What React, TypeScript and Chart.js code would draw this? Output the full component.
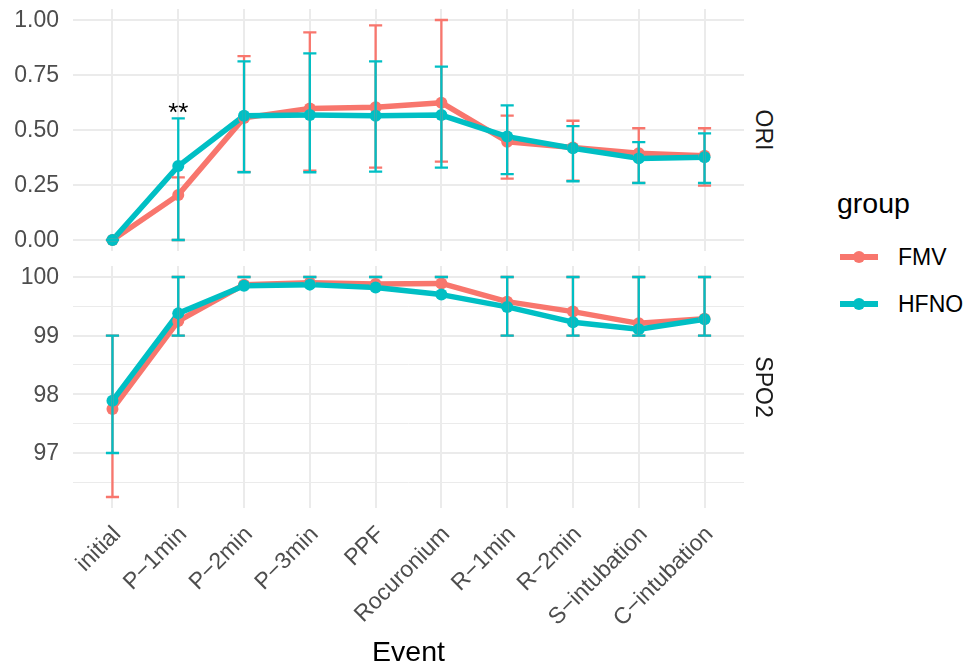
import React, { useEffect, useRef } from 'react';
import { Chart, registerables } from 'chart.js';

Chart.register(...registerables);

const FONT = "'Liberation Sans', Arial, Helvetica, sans-serif";
const FMV_COLOR = '#F8766D';
const HFNO_COLOR = '#00BFC4';
const GRID_COLOR = '#EBEBEB';
const TICK_COLOR = '#4D4D4D';

// ---- data ----
const categories = ['initial', 'P−1min', 'P−2min', 'P−3min', 'PPF', 'Rocuronium', 'R−1min', 'R−2min', 'S−intubation', 'C−intubation'];
const groups = ['FMV', 'HFNO'];
const panels = ['ORI', 'SPO2'];

const oriFMV = [0, 0.205, 0.555, 0.598, 0.603, 0.624, 0.447, 0.42, 0.394, 0.383];
const oriFMVLow = [0, 0, 0.31, 0.315, 0.329, 0.356, 0.279, 0.27, 0.26, 0.247];
const oriFMVHigh = [0, 0.285, 0.836, 0.944, 0.976, 1.0, 0.565, 0.542, 0.508, 0.508];
const oriHFNO = [0, 0.336, 0.565, 0.568, 0.565, 0.568, 0.47, 0.417, 0.371, 0.376];
const oriHFNOLow = [0, 0, 0.308, 0.308, 0.311, 0.329, 0.299, 0.267, 0.259, 0.259];
const oriHFNOHigh = [0, 0.553, 0.812, 0.848, 0.812, 0.788, 0.612, 0.518, 0.445, 0.485];

const spoFMV = [97.75, 99.25, 99.87, 99.9, 99.88, 99.89, 99.58, 99.41, 99.21, 99.29];
const spoFMVLow = [96.25, 99, 100, 100, 100, 100, 99, 99, 99, 99];
const spoFMVHigh = [99, 100, 100, 100, 100, 100, 100, 100, 100, 100];
const spoHFNO = [97.89, 99.38, 99.85, 99.87, 99.82, 99.7, 99.49, 99.23, 99.11, 99.28];
const spoHFNOLow = [97, 99, 100, 100, 100, 100, 99, 99, 99, 99];
const spoHFNOHigh = [99, 100, 100, 100, 100, 100, 100, 100, 100, 100];

const oriTicks = [0, 0.125, 0.25, 0.375, 0.5, 0.625, 0.75, 0.875, 1];
const spoTicks = [96.5, 97, 97.5, 98, 98.5, 99, 99.5, 100];
const oriRange = [-0.05, 1.05];
const spoRange = [96.0625, 100.1875];
const xRange = [-0.6, 9.6];
const capHalfWidth = 0.1;

const sigLabel = '**';
const sigIndex = 1;
const sigValue = 0.54;

// ---- helpers ----
const points = (values: number[]) => values.map((y, x) => ({ x, y }));

function errorPath(lo: number[], hi: number[]) {
  const out: { x: number; y: number | null }[] = [];
  lo.forEach((l, i) => {
    const h = hi[i];
    out.push(
      { x: i - capHalfWidth, y: h }, { x: i + capHalfWidth, y: h }, { x: i, y: null },
      { x: i, y: h }, { x: i, y: l }, { x: i, y: null },
      { x: i - capHalfWidth, y: l }, { x: i + capHalfWidth, y: l }, { x: i, y: null },
    );
  });
  return out;
}

function panelDatasets(fmv: number[], fmvLo: number[], fmvHi: number[], hfno: number[], hfnoLo: number[], hfnoHi: number[]) {
  const lineBase = { type: 'line' as const, borderWidth: 5.5, pointRadius: 0, borderJoinStyle: 'round' as const, spanGaps: false };
  const pointBase = { type: 'line' as const, showLine: false, pointRadius: 6, pointBorderWidth: 0, pointHoverRadius: 6 };
  const errBase = { type: 'line' as const, borderWidth: 2.3, pointRadius: 0, spanGaps: false, borderCapStyle: 'butt' as const };
  return [
    { ...lineBase, label: groups[0], data: points(fmv), borderColor: FMV_COLOR, order: 8 },
    { ...lineBase, label: groups[1], data: points(hfno), borderColor: HFNO_COLOR, order: 7 },
    { ...pointBase, data: points(fmv), pointBackgroundColor: FMV_COLOR, borderColor: FMV_COLOR, order: 6 },
    { ...pointBase, data: points(hfno), pointBackgroundColor: HFNO_COLOR, borderColor: HFNO_COLOR, order: 5 },
    { ...errBase, data: errorPath(fmvLo, fmvHi), borderColor: FMV_COLOR, order: 4 },
    { ...errBase, data: errorPath(hfnoLo, hfnoHi), borderColor: HFNO_COLOR, order: 3 },
  ];
}

function xScale(showLabels: boolean) {
  return {
    type: 'linear' as const,
    min: xRange[0],
    max: xRange[1],
    afterBuildTicks: (s: any) => { s.ticks = categories.map((_, i) => ({ value: i })); },
    grid: { color: GRID_COLOR, lineWidth: 2, drawTicks: false },
    border: { display: false },
    ticks: {
      display: showLabels,
      autoSkip: false,
      minRotation: 45,
      maxRotation: 45,
      padding: 13,
      labelOffset: 5,
      color: TICK_COLOR,
      font: { size: 23, family: FONT },
      callback: (v: any) => categories[Math.round(Number(v))] ?? '',
    },
    title: showLabels
      ? { display: true, text: 'Event', color: '#000000', font: { size: 28.5, family: FONT, lineHeight: 1.05 }, padding: 0 }
      : { display: false },
    afterFit: (s: any) => {
      s.height = showLabels ? 160 : 9;
      s.paddingLeft = 0;
      s.paddingRight = 0;
    },
  };
}

function yScale(range: number[], ticks: number[], isMajor: (v: number) => boolean, fmt: (v: number) => string) {
  return {
    type: 'linear' as const,
    min: range[0],
    max: range[1],
    afterBuildTicks: (s: any) => { s.ticks = ticks.map((value) => ({ value })); },
    grid: {
      color: GRID_COLOR,
      lineWidth: (ctx: any) => (ctx.tick && isMajor(ctx.tick.value) ? 2 : 1),
      drawTicks: false,
    },
    border: { display: false },
    ticks: {
      padding: 14,
      labelOffset: 1,
      color: TICK_COLOR,
      font: { size: 23, family: FONT },
      callback: (v: any) => (isMajor(Number(v)) ? fmt(Number(v)) : ''),
    },
    afterFit: (s: any) => {
      s.width = 73;
      s.paddingTop = 0;
      s.paddingBottom = 0;
    },
  };
}

const sigPlugin = {
  id: 'sigMark',
  afterDatasetsDraw(chart: any) {
    const { ctx, scales } = chart;
    ctx.save();
    ctx.font = `26px ${FONT}`;
    ctx.fillStyle = '#000000';
    ctx.textAlign = 'center';
    ctx.textBaseline = 'alphabetic';
    ctx.fillText(sigLabel, scales.x.getPixelForValue(sigIndex), scales.y.getPixelForValue(sigValue));
    ctx.restore();
  },
};

const baseOptions = {
  responsive: false,
  maintainAspectRatio: false,
  animation: false as const,
  devicePixelRatio: 1,
  events: [] as any[],
  plugins: { legend: { display: false }, tooltip: { enabled: false } },
};

export default function App() {
  const topRef = useRef<HTMLCanvasElement | null>(null);
  const botRef = useRef<HTMLCanvasElement | null>(null);

  useEffect(() => {
    if (!topRef.current || !botRef.current) return;
    const oriMajor = (v: number) => Math.abs(v * 4 - Math.round(v * 4)) < 1e-9;
    const spoMajor = (v: number) => Math.abs(v - Math.round(v)) < 1e-9;

    const top = new Chart(topRef.current, {
      type: 'line',
      data: { datasets: panelDatasets(oriFMV, oriFMVLow, oriFMVHigh, oriHFNO, oriHFNOLow, oriHFNOHigh) as any },
      options: {
        ...baseOptions,
        layout: { padding: { top: 9, right: 5, bottom: 0, left: 0 } },
        scales: {
          x: xScale(false) as any,
          y: yScale(oriRange, oriTicks, oriMajor, (v) => v.toFixed(2)) as any,
        },
      } as any,
      plugins: [sigPlugin],
    });

    const bottom = new Chart(botRef.current, {
      type: 'line',
      data: { datasets: panelDatasets(spoFMV, spoFMVLow, spoFMVHigh, spoHFNO, spoHFNOLow, spoHFNOHigh) as any },
      options: {
        ...baseOptions,
        layout: { padding: { top: 8, right: 5, bottom: 0, left: 0 } },
        scales: {
          x: xScale(true) as any,
          y: yScale(spoRange, spoTicks, spoMajor, (v) => String(Math.round(v))) as any,
        },
      } as any,
    });

    return () => {
      top.destroy();
      bottom.destroy();
    };
  }, []);

  const stripStyle: React.CSSProperties = {
    position: 'absolute',
    left: 763,
    transform: 'translate(-50%, -50%) rotate(90deg)',
    fontSize: 23,
    lineHeight: '23px',
    color: '#1A1A1A',
    whiteSpace: 'nowrap',
  };
  const keyLine = (top: number, color: string) => (
    <>
      <div style={{ position: 'absolute', left: 840, top: top - 3, width: 38, height: 6, background: color }} />
      <div style={{ position: 'absolute', left: 853, top: top - 6, width: 12, height: 12, borderRadius: '50%', background: color }} />
    </>
  );

  return (
    <div style={{ position: 'absolute', left: 0, top: 0, width: 966, height: 668, background: '#ffffff', overflow: 'hidden', fontFamily: FONT }}>
      <canvas ref={topRef} width={750} height={260} style={{ position: 'absolute', left: 0, top: 0 }} />
      <canvas ref={botRef} width={750} height={410} style={{ position: 'absolute', left: 0, top: 258 }} />
      <div style={{ ...stripStyle, top: 130 }}>{panels[0]}</div>
      <div style={{ ...stripStyle, top: 387 }}>{panels[1]}</div>
      <div style={{ position: 'absolute', left: 837, top: 189, fontSize: 28.5, lineHeight: '28px', color: '#000', whiteSpace: 'nowrap' }}>group</div>
      {keyLine(257, FMV_COLOR)}
      {keyLine(304, HFNO_COLOR)}
      <div style={{ position: 'absolute', left: 898, top: 246, fontSize: 23, lineHeight: '23px', color: '#000', whiteSpace: 'nowrap' }}>{groups[0]}</div>
      <div style={{ position: 'absolute', left: 898, top: 293, fontSize: 23, lineHeight: '23px', color: '#000', whiteSpace: 'nowrap' }}>{groups[1]}</div>
    </div>
  );
}
